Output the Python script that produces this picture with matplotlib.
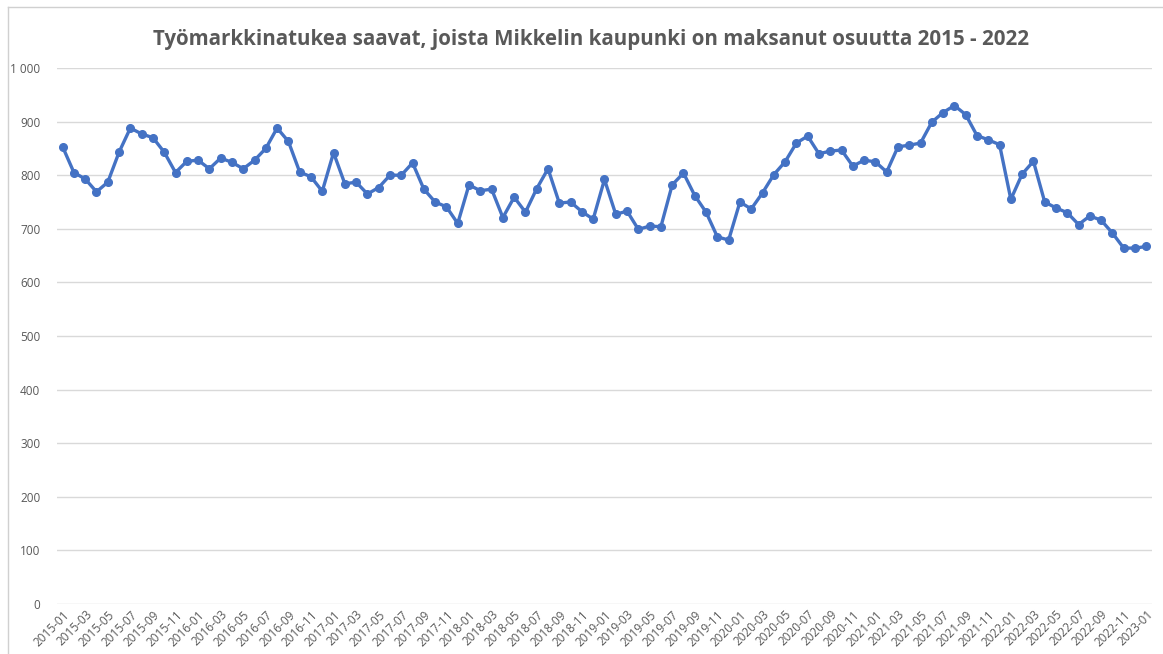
import matplotlib
matplotlib.use("Agg")
import matplotlib.pyplot as plt
from matplotlib.lines import Line2D
from matplotlib.ticker import FuncFormatter

# monthly counts 2015-01 .. 2023-01
y2015 = [853, 805, 793, 769, 787, 843, 888, 877, 870, 843, 805, 826]
y2016 = [828, 812, 832, 824, 812, 828, 850, 888, 863, 806, 797, 770]
y2017 = [842, 784, 787, 765, 777, 800, 800, 823, 774, 750, 741, 710]
y2018 = [782, 771, 774, 721, 759, 731, 775, 812, 748, 750, 732, 718]
y2019 = [792, 727, 733, 699, 705, 704, 782, 804, 762, 731, 685, 679]
y2020 = [750, 737, 767, 801, 825, 860, 873, 840, 845, 847, 817, 828]
y2021 = [825, 806, 853, 856, 860, 899, 917, 930, 913, 874, 866, 857]
y2022 = [755, 802, 826, 750, 739, 730, 708, 724, 716, 692, 664, 664]
y2023 = [667]

values = y2015 + y2016 + y2017 + y2018 + y2019 + y2020 + y2021 + y2022 + y2023
months = [f"{2015 + i // 12}-{i % 12 + 1:02d}" for i in range(len(values))]

title = "Työmarkkinatukea saavat, joista Mikkelin kaupunki on maksanut osuutta 2015 - 2022"
grey = "#595959"

plt.rcParams['font.family'] = ['Open Sans', 'DejaVu Sans']

fig = plt.figure(figsize=(11.63, 6.54), dpi=100)
ax = fig.add_axes([0.049, 0.0765, 0.9415, 0.8195])

x = list(range(len(values)))
ax.plot(x, values, color="#4472C4", lw=2.4, marker="o", ms=5.5, zorder=3)

ax.set_xlim(-0.5, len(values) - 0.5)
ax.set_ylim(0, 1000)
ax.set_yticks(range(0, 1001, 100))
ax.yaxis.set_major_formatter(FuncFormatter(lambda v, p: f"{int(v):,}".replace(",", " ")))
ax.set_xticks(x[::2])
ax.set_xticklabels(months[::2], rotation=45, ha="right", rotation_mode="anchor")
ax.tick_params(axis="both", length=0, colors=grey, labelsize=8.5)
ax.tick_params(axis="y", pad=12)
ax.tick_params(axis="x", pad=3)
ax.grid(axis="y", color="#D9D9D9", lw=1)
ax.set_axisbelow(True)
for s in ax.spines.values():
    s.set_visible(False)

fig.text(0.508, 0.940, title, ha="center", va="center", fontsize=14.8, fontweight="bold", color=grey)

# frame of the chart area
fig.add_artist(Line2D([0.0065, 0.0065], [0, 0.989], color="#D0D0D0", lw=1))
fig.add_artist(Line2D([0.0065, 1], [0.989, 0.989], color="#D0D0D0", lw=1))

fig.savefig("out.png", dpi=100)
